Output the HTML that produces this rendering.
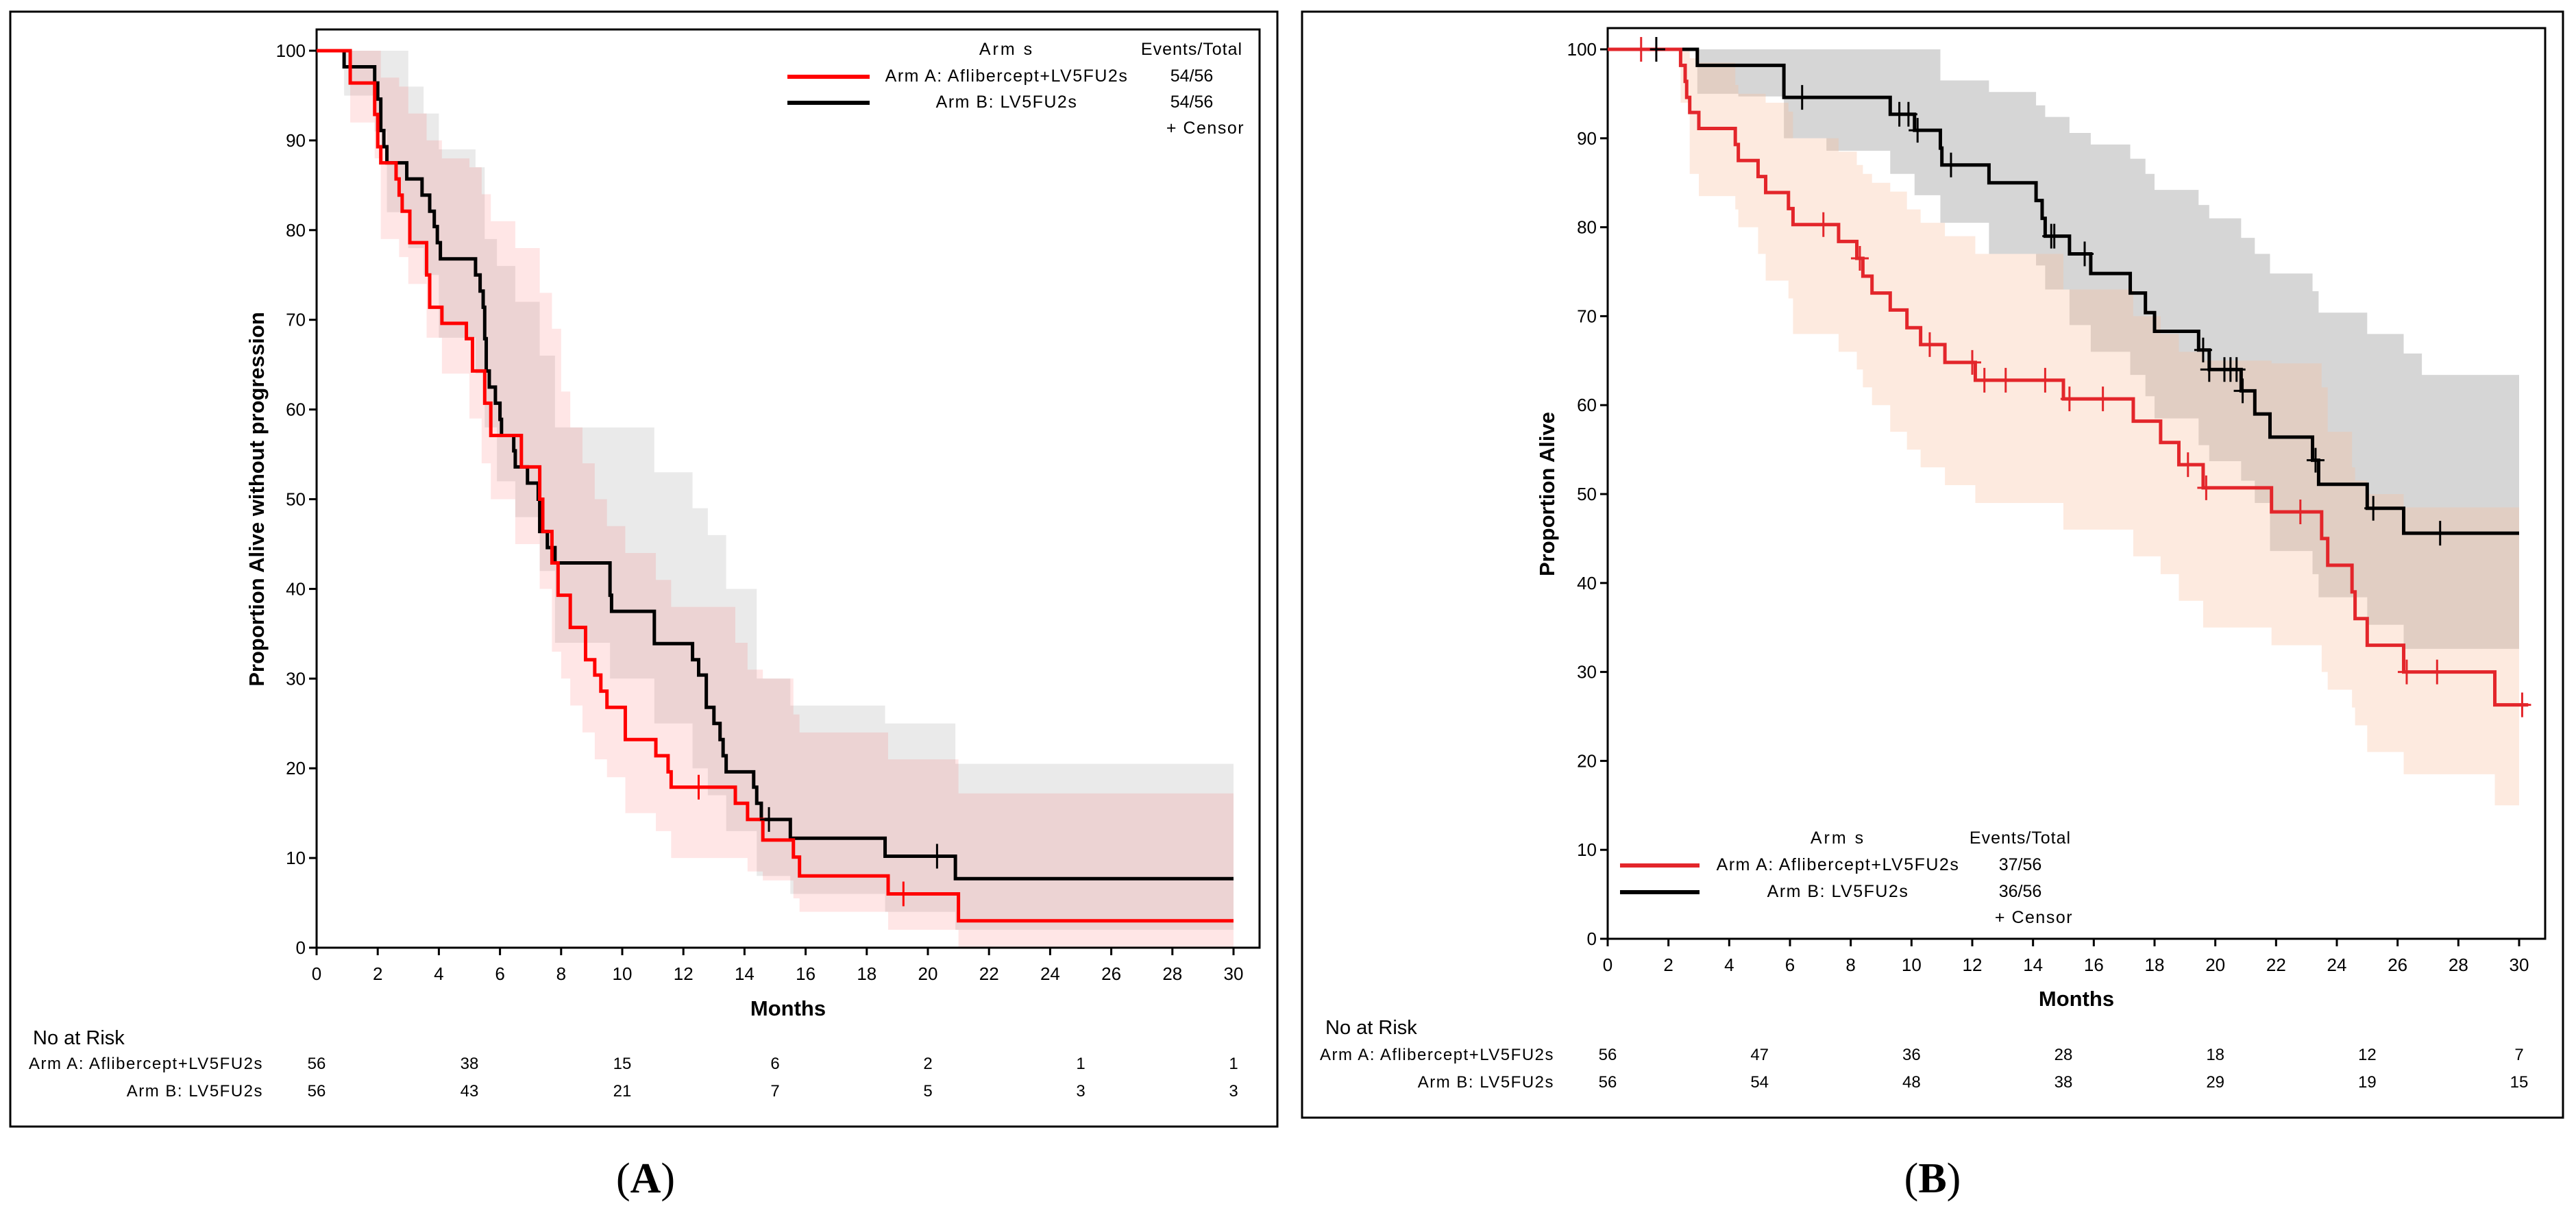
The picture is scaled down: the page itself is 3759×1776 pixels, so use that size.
<!DOCTYPE html>
<html><head><meta charset="utf-8"><style>
html,body{margin:0;padding:0;background:#fff;}
svg{display:block;font-family:"Liberation Sans",sans-serif;}
.n{font-family:"Liberation Sans Narrow","Liberation Sans",sans-serif;}
</style></head><body>
<svg id="root" width="3759" height="1776" viewBox="0 0 3759 1776" xmlns="http://www.w3.org/2000/svg">
<rect x="0" y="0" width="3759" height="1776" fill="#fff"/>
<rect x="15" y="17" width="1849" height="1627" fill="none" stroke="#000" stroke-width="3"/>
<rect x="1900" y="17" width="1840" height="1614" fill="none" stroke="#000" stroke-width="3"/>
<text x="942" y="1740" font-family="Liberation Serif,serif" font-size="62" text-anchor="middle">(<tspan font-weight="bold">A</tspan>)</text>
<text x="2820" y="1740" font-family="Liberation Serif,serif" font-size="62" text-anchor="middle">(<tspan font-weight="bold">B</tspan>)</text>
<g id="pa"></g><g id="pb"></g>
</svg>
<script>
// ---------- Panel A data ----------
const xTicks=[0,2,4,6,8,10,12,14,16,18,20,22,24,26,28,30];
const yTicks=[0,10,20,30,40,50,60,70,80,90,100];
const riskTimes=[0,5,10,15,20,25,30];
const aRedT=[0,1.1,1.9,2.0,2.1,2.6,2.7,2.8,3.05,3.6,3.7,4.1,4.9,5.1,5.5,5.7,6.7,7.3,7.4,7.7,7.9,8.3,8.8,9.1,9.3,9.5,10.1,11.1,11.5,11.6,13.7,14.1,14.6,15.6,15.8,18.7,21.0];
const aRedS=[100,96.4,92.9,89.3,87.5,85.7,83.9,82.1,78.6,75,71.4,69.6,67.9,64.3,60.7,57.1,53.6,50,46.4,42.9,39.3,35.7,32.1,30.4,28.6,26.8,23.2,21.4,19.6,17.9,16.1,14.3,12.0,10.1,8.0,6.0,3.0];
const aRedCensT=[12.5,19.2];
const aBlkT=[0,0.9,1.9,2.0,2.1,2.2,2.3,2.95,3.45,3.7,3.85,3.95,4.05,5.2,5.35,5.45,5.5,5.55,5.65,5.85,6.0,6.05,6.45,6.5,6.9,7.25,7.3,7.55,7.8,9.6,9.65,11.05,12.3,12.5,12.75,13.0,13.2,13.3,13.4,14.3,14.4,14.55,15.5,18.6,20.9];
const aBlkS=[100,98.2,96.4,94.6,91.1,89.3,87.5,85.7,83.9,82.1,80.4,78.6,76.8,75,73.2,71.4,67.9,64.3,62.5,60.7,58.9,57.1,55.4,53.6,51.8,50,46.4,44.6,42.9,39.3,37.5,33.9,32.1,30.4,26.8,25,23.2,21.4,19.6,17.9,16.1,14.3,12.2,10.2,7.7];
const aBlkCensT=[14.8,20.3];
const aRedBandT=[0,1.1,1.9,2.1,2.7,3.0,3.6,4.1,5.0,5.4,5.7,6.5,7.3,7.7,8.0,8.3,8.7,9.1,9.5,10.1,11.1,11.6,13.7,14.1,14.6,15.6,15.8,18.7,21.0];
const aRedBandLo=[100,92,88,79,77,74,68,64,59,54,50,45,40,33,30,27,24,21,19,15,13,10,10,8.5,7.5,5.5,4,2,0];
const aRedBandHi=[100,100,100,97,96,93,90,88,87,84,81,78,73,69,62,58,54,50,47,44,41,38,34,31,30,26,24,21,17.2];
const aBlkBandT=[0,0.9,1.9,2.3,3.0,3.5,4.0,5.2,5.5,5.9,6.5,7.3,7.8,9.6,11.05,12.3,12.8,13.4,14.4,15.5,18.6,20.9];
const aBlkBandLo=[100,95,91,82,78,75,68,64,58,52,48,42,34,30,25,20,17,13,8,6,4,2];
const aBlkBandHi=[100,100,100,100,96,93,89,87,79,76,72,66,58,58,53,49,46,40,30,27,25,20.5];
const aRiskA=[56,38,15,6,2,1,1];
const aRiskB=[56,43,21,7,5,3,3];
// ---------- Panel B data ----------
const bRedT=[0,2.4,2.55,2.6,2.7,3.0,4.2,4.3,4.95,5.2,5.95,6.1,7.6,8.2,8.4,8.7,9.3,9.85,10.3,11.1,12.1,15.0,17.3,18.2,18.8,19.6,21.85,23.5,23.7,24.5,24.6,25.0,26.2,29.2];
const bRedS=[100,98.2,96.4,94.6,92.9,91.1,89.3,87.5,85.7,83.9,82.1,80.3,78.4,76.5,74.5,72.6,70.7,68.7,66.8,64.8,62.8,60.7,58.2,55.8,53.3,50.7,48.0,45,42,39,36,33,30,26.3];
const bRedCensT=[1.1,7.1,8.3,10.6,12.0,12.4,13.1,14.4,15.2,16.3,19.1,19.7,22.8,26.3,27.3,30.1];
const bBlkT=[0,2.95,5.8,9.3,10.1,10.95,11.0,12.55,14.1,14.3,14.4,15.2,15.9,17.2,17.7,18.0,19.45,19.8,20.85,21.3,21.8,23.2,23.4,25.0,26.2];
const bBlkS=[100,98.2,94.6,92.7,90.9,88.9,87,85,83,81,79,77,74.8,72.6,70.4,68.3,66.2,64,61.6,59,56.4,53.8,51.1,48.4,45.6];
const bBlkCensT=[1.6,6.4,9.6,9.9,10.2,11.3,14.6,14.7,15.7,19.6,19.8,20.3,20.5,20.7,20.9,23.3,25.2,27.4];
const bRedBandT=[0,2.4,2.7,3.0,4.2,4.3,4.95,5.2,5.95,6.1,7.6,8.2,8.4,8.7,9.3,9.85,10.3,11.1,12.1,15.0,17.3,18.2,18.8,19.6,21.85,23.5,23.7,24.5,24.6,25.0,26.2,29.2];
const bRedBandLo=[100,94,86,83.5,82,80,77,74,72,68,66,64,62,60,57,55,53,51,49,46,43,41,38,35,33,30,28,26,24,21,18.5,15];
const bRedBandHi=[100,100,99,98.5,96,95,95,94,93,90,88.5,87,86,85,84,82,80.5,79,77,73,70,68,66,65,64.7,62,57,53,51.5,50,48.5,48.5];
const bBlkBandT=[0,2.95,4.3,5.8,7.2,9.3,10.1,10.95,12.55,14.1,14.4,15.2,15.9,17.2,17.7,18.0,19.45,19.8,20.85,21.3,21.8,23.2,23.4,25.0,26.2,26.8];
const bBlkBandLo=[100,95,94.7,90,88.6,86,83.6,80.5,77,75.7,73,69,66,63.4,61,58.5,55.5,53.7,51.5,49,43.6,41,38.4,35.3,32.6,32.6];
const bBlkBandHi=[100,100,100,100,100,100,100,96.5,95.2,93.7,92.4,90.6,89.3,87.7,86,84.2,82.5,81,78.8,77,74.8,72.8,70.4,68,65.8,63.4];
const bRiskA=[56,47,36,28,18,12,7];
const bRiskB=[56,54,48,38,29,19,15];

const NS="http://www.w3.org/2000/svg";
function mk(parent,tag,attrs,text){const e=document.createElementNS(NS,tag);for(const k in attrs)e.setAttribute(k,attrs[k]);if(text!==undefined)e.textContent=text;parent.appendChild(e);return e;}
function stepPath(T,S,xs,ys,end){let d="M"+xs(T[0])+","+ys(S[0]);for(let i=1;i<T.length;i++){d+="H"+xs(T[i])+"V"+ys(S[i]);}d+="H"+xs(end);return d;}
function bandPath(T,lo,hi,xs,ys,end){let d="M"+xs(T[0])+","+ys(hi[0]);for(let i=1;i<T.length;i++){d+="H"+xs(T[i])+"V"+ys(hi[i]);}d+="H"+xs(end)+"V"+ys(lo[lo.length-1]);for(let i=T.length-1;i>=1;i--){d+="H"+xs(T[i])+"V"+ys(lo[i-1]);}d+="H"+xs(T[0])+"Z";return d;}
function valAt(T,S,t){let v=S[0];for(let i=0;i<T.length;i++){if(T[i]<=t)v=S[i];}return v;}

function panel(g,P){
  const xs=t=>P.x0+(P.x30-P.x0)*t/30, ys=v=>P.y0+(P.y100-P.y0)*v/100;
  // bands
  let e;
  e=mk(g,"path",{d:bandPath(P.bBandT,P.bBandLo,P.bBandHi,xs,ys,30),fill:P.greyFill,stroke:"none"});
  
  
  e=mk(g,"path",{d:bandPath(P.rBandT,P.rBandLo,P.rBandHi,xs,ys,30),fill:P.redFill,stroke:"none"});
  
  
  // axes box
  e=mk(g,"rect",{x:P.bx0,y:P.by0,width:P.bx1-P.bx0,height:P.y0-P.by0,fill:"none",stroke:"#000","stroke-width":3});
  
  
  xTicks.forEach(t=>{
    e=mk(g,"line",{x1:xs(t),x2:xs(t),y1:P.y0,y2:P.y0+11,stroke:"#000","stroke-width":3});
    
    
    e=mk(g,"text",{x:xs(t),y:P.y0+47,"font-size":26,"text-anchor":"middle"},String(t));
    
    
  });
  yTicks.forEach(v=>{
    e=mk(g,"line",{x1:P.bx0-11,x2:P.bx0,y1:ys(v),y2:ys(v),stroke:"#000","stroke-width":3});
    
    
    e=mk(g,"text",{x:P.bx0-16,y:ys(v)+9,"font-size":26,"text-anchor":"end"},String(v));
    
    
  });
  e=mk(g,"text",{x:(P.bx0+P.bx1)/2,y:P.monthsY,"font-size":31,"font-weight":"bold","text-anchor":"middle"},"Months");
  
  
  const cy=(P.y0+P.y100)/2;
  e=mk(g,"text",{x:P.ytx,y:cy,"font-size":31,"font-weight":"bold","text-anchor":"middle",transform:"rotate(-90 "+P.ytx+" "+cy+")"},P.ytitle);
  
  
  // curves
  e=mk(g,"path",{d:stepPath(P.bT,P.bS,xs,ys,30),fill:"none",stroke:"#000","stroke-width":5,"stroke-linejoin":"miter"});
  
  
  e=mk(g,"path",{d:stepPath(P.rT,P.rS,xs,ys,P.rEnd),fill:"none",stroke:P.red,"stroke-width":5});
  
  
  P.bC.forEach(t=>{const x=xs(t),y=ys(valAt(P.bT,P.bS,t));
    e=mk(g,"path",{d:"M"+(x-13)+","+y+"H"+(x+13)+"M"+x+","+(y-18)+"V"+(y+18),stroke:"#000","stroke-width":3});
    
    });
  P.rC.forEach(t=>{const x=xs(t),y=ys(valAt(P.rT,P.rS,t));
    e=mk(g,"path",{d:"M"+(x-13)+","+y+"H"+(x+13)+"M"+x+","+(y-18)+"V"+(y+18),stroke:P.red,"stroke-width":3});
    
    });
  // legend
  const L=P.leg;
  e=mk(g,"text",{x:L.tx,y:L.y0,"font-size":25,"text-anchor":"middle","class":"n","letter-spacing":"3"},"Arm s");
  
  
  e=mk(g,"text",{x:L.cx,y:L.y0,"font-size":25,"text-anchor":"middle","class":"n","letter-spacing":"1"},"Events/Total");
  
  
  e=mk(g,"line",{x1:L.lx0,x2:L.lx1,y1:L.y1-7,y2:L.y1-7,stroke:P.red,"stroke-width":6});
  
  
  e=mk(g,"line",{x1:L.lx0,x2:L.lx1,y1:L.y2-7,y2:L.y2-7,stroke:"#000","stroke-width":6});
  
  
  e=mk(g,"text",{x:L.tx,y:L.y1,"font-size":25,"text-anchor":"middle","class":"n","letter-spacing":"1.5"},"Arm A: Aflibercept+LV5FU2s");
  
  
  e=mk(g,"text",{x:L.tx,y:L.y2,"font-size":25,"text-anchor":"middle","class":"n","letter-spacing":"1.5"},"Arm B: LV5FU2s");
  
  
  e=mk(g,"text",{x:L.cx,y:L.y1,"font-size":25,"text-anchor":"middle","class":"n"},P.evA);
  
  
  e=mk(g,"text",{x:L.cx,y:L.y2,"font-size":25,"text-anchor":"middle","class":"n"},P.evB);
  
  
  e=mk(g,"text",{x:L.cx+20,y:L.y3,"font-size":25,"text-anchor":"middle","class":"n","letter-spacing":"1.5"},"+ Censor");
  
  
  // risk table
  const R=P.risk;
  e=mk(g,"text",{x:R.lx,y:R.y0,"font-size":29,"class":"n"},"No at Risk");
  
  
  e=mk(g,"text",{x:R.rx,y:R.y1,"font-size":24,"text-anchor":"end","class":"n","letter-spacing":"1.5"},"Arm A: Aflibercept+LV5FU2s");
  
  
  e=mk(g,"text",{x:R.rx,y:R.y2,"font-size":24,"text-anchor":"end","class":"n","letter-spacing":"1.5"},"Arm B: LV5FU2s");
  
  
  riskTimes.forEach((t,i)=>{
    e=mk(g,"text",{x:xs(t),y:R.y1,"font-size":24,"text-anchor":"middle","class":"n"},String(P.rA[i]));
    
    
    e=mk(g,"text",{x:xs(t),y:R.y2,"font-size":24,"text-anchor":"middle","class":"n"},String(P.rB[i]));
    
    
  });
}
panel(document.getElementById("pa"),{x0:462,x30:1800,y0:1383,y100:74,bx0:462,bx1:1838,by0:43,monthsY:1482,ytx:385,ytitle:"Proportion Alive without progression",
  red:"#ff0000",redFill:"rgba(255,60,60,0.13)",greyFill:"rgba(60,60,60,0.11)",
  rT:aRedT,rS:aRedS,rEnd:30,rC:aRedCensT,bT:aBlkT,bS:aBlkS,bC:aBlkCensT,
  rBandT:aRedBandT,rBandLo:aRedBandLo,rBandHi:aRedBandHi,bBandT:aBlkBandT,bBandLo:aBlkBandLo,bBandHi:aBlkBandHi,
  evA:"54/56",evB:"54/56",
  leg:{tx:1469,cx:1739,y0:80,y1:119,y2:157,y3:195,lx0:1149,lx1:1269},
  risk:{lx:48,rx:384,y0:1524,y1:1560,y2:1600},rA:aRiskA,rB:aRiskB});
panel(document.getElementById("pb"),{x0:2346,x30:3676,y0:1370,y100:72,bx0:2346,bx1:3714,by0:41,monthsY:1468,ytx:2268,ytitle:"Proportion Alive",
  red:"#e3262b",redFill:"rgba(248,190,155,0.32)",greyFill:"rgba(120,120,120,0.3)",
  rT:bRedT,rS:bRedS,rEnd:30.3,rC:bRedCensT,bT:bBlkT,bS:bBlkS,bC:bBlkCensT,
  rBandT:bRedBandT,rBandLo:bRedBandLo,rBandHi:bRedBandHi,bBandT:bBlkBandT,bBandLo:bBlkBandLo,bBandHi:bBlkBandHi,
  evA:"37/56",evB:"36/56",
  leg:{tx:2682,cx:2948,y0:1231,y1:1270,y2:1309,y3:1347,lx0:2364,lx1:2480},
  risk:{lx:1934,rx:2268,y0:1509,y1:1547,y2:1587},rA:bRiskA,rB:bRiskB});
</script>
</body></html>
